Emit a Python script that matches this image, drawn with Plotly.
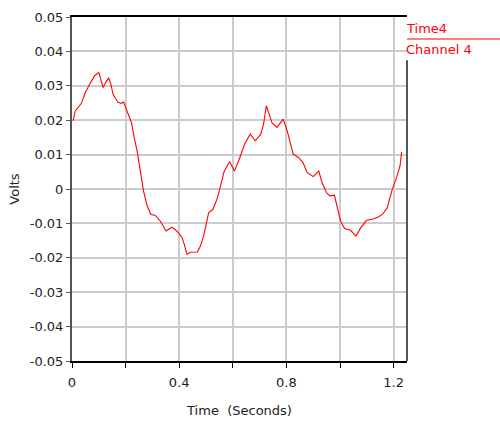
import plotly.graph_objects as go

time_s = [0.004, 0.012, 0.035, 0.05, 0.07, 0.085, 0.1, 0.105, 0.116, 0.126, 0.137, 0.145,
          0.153, 0.162, 0.172, 0.184, 0.193, 0.2, 0.209, 0.222, 0.232, 0.243, 0.253, 0.262,
          0.267, 0.279, 0.294, 0.31, 0.329, 0.351, 0.373, 0.391, 0.41, 0.419, 0.429, 0.441,
          0.468, 0.479, 0.491, 0.51, 0.526, 0.543, 0.556, 0.568, 0.588, 0.606, 0.626, 0.644,
          0.665, 0.684, 0.705, 0.715, 0.725, 0.734, 0.746, 0.765, 0.788, 0.803, 0.815, 0.825,
          0.846, 0.862, 0.877, 0.9, 0.921, 0.933, 0.95, 0.962, 0.979, 0.989, 1.002, 1.017,
          1.039, 1.06, 1.077, 1.099, 1.12, 1.141, 1.158, 1.176, 1.195, 1.211, 1.224, 1.23]
volts = [0.0198, 0.0227, 0.0249, 0.0281, 0.031, 0.033, 0.0339, 0.0327, 0.0295, 0.031, 0.0323, 0.0305,
         0.0276, 0.0263, 0.0252, 0.0249, 0.0253, 0.0237, 0.0218, 0.0193, 0.015, 0.0111, 0.0062, 0.0023,
         -0.0006, -0.0045, -0.0074, -0.0076, -0.0093, -0.0122, -0.0111, -0.0122, -0.014, -0.0161, -0.019, -0.0184,
         -0.0183, -0.0166, -0.0137, -0.0069, -0.0059, -0.0025, 0.0018, 0.0052, 0.0079, 0.0052, 0.0091, 0.013,
         0.016, 0.014, 0.016, 0.0189, 0.0242, 0.0218, 0.0193, 0.0179, 0.0203, 0.0169, 0.0133, 0.0102,
         0.0091, 0.0077, 0.0048, 0.0036, 0.0052, 0.0018, -0.0011, -0.002, -0.0018, -0.0055, -0.0093, -0.0115,
         -0.012, -0.0137, -0.0113, -0.0091, -0.0088, -0.0082, -0.0074, -0.0055, -0.0001, 0.0033, 0.0067, 0.0108]

x_tickvals = [0, 0.2, 0.4, 0.6, 0.8, 1.0, 1.2]
x_ticktext = ["0", "", "0.4", "", "0.8", "", "1.2"]
y_tickvals = [0.05, 0.04, 0.03, 0.02, 0.01, 0, -0.01, -0.02, -0.03, -0.04, -0.05]
y_ticktext = ["0.05", "0.04", "0.03", "0.02", "0.01", "0", "-0.01", "-0.02", "-0.03", "-0.04", "-0.05"]
legend_lines = ["Time4", "Channel 4"]

FONT = "DejaVu Sans"
TXT = "#222222"

fig = go.Figure()
fig.add_trace(go.Scatter(x=time_s, y=volts, mode="lines",
                         line=dict(color="#ff0000", width=1.1), showlegend=False))

fig.update_layout(
    width=500, height=421,
    margin=dict(l=72, r=93, t=17, b=60),
    paper_bgcolor="white", plot_bgcolor="white",
    font=dict(family=FONT, size=13, color=TXT),
    xaxis=dict(range=[0, 1.25], tickvals=x_tickvals, ticktext=x_ticktext,
               automargin=False,
               showgrid=True, gridcolor="#cccccc", gridwidth=1.5,
               showline=True, linecolor="black", linewidth=1.5, mirror=True,
               ticks="outside", ticklen=5, tickcolor="black", ticklabelstandoff=4,
               zeroline=False, title=dict(text="Time  (Seconds)", standoff=17,
                                          font=dict(size=13, color=TXT))),
    yaxis=dict(range=[-0.05, 0.05], tickvals=y_tickvals, ticktext=y_ticktext,
               automargin=False,
               showgrid=True, gridcolor="#cccccc", gridwidth=1.5,
               showline=True, linecolor="#555555", linewidth=2,
               ticks="outside", ticklen=4, tickcolor="#555555",
               zeroline=False, title=dict(text="Volts", standoff=7,
                                          font=dict(size=13, color=TXT))),
)

# right frame line (stops below the legend text)
fig.add_shape(type="line", xref="paper", yref="paper", x0=1, x1=1, y0=0, y1=0.874,
              line=dict(color="#555555", width=2))
# legend: two red labels separated by a red rule
fig.add_annotation(xref="paper", yref="paper", x=1.0, y=0.966, xanchor="left", yanchor="middle",
                   xshift=-3, text=legend_lines[0], showarrow=False,
                   font=dict(family=FONT, size=13, color="#ff0000"))
fig.add_annotation(xref="paper", yref="paper", x=1.0, y=0.906, xanchor="left", yanchor="middle",
                   xshift=-3, text=legend_lines[1], showarrow=False,
                   font=dict(family=FONT, size=13, color="#ff0000"))
fig.add_shape(type="line", xref="paper", yref="paper", x0=1, x1=1.28, y0=0.936, y1=0.936,
              line=dict(color="#ff0000", width=1.2))

fig.write_html("out.html")
